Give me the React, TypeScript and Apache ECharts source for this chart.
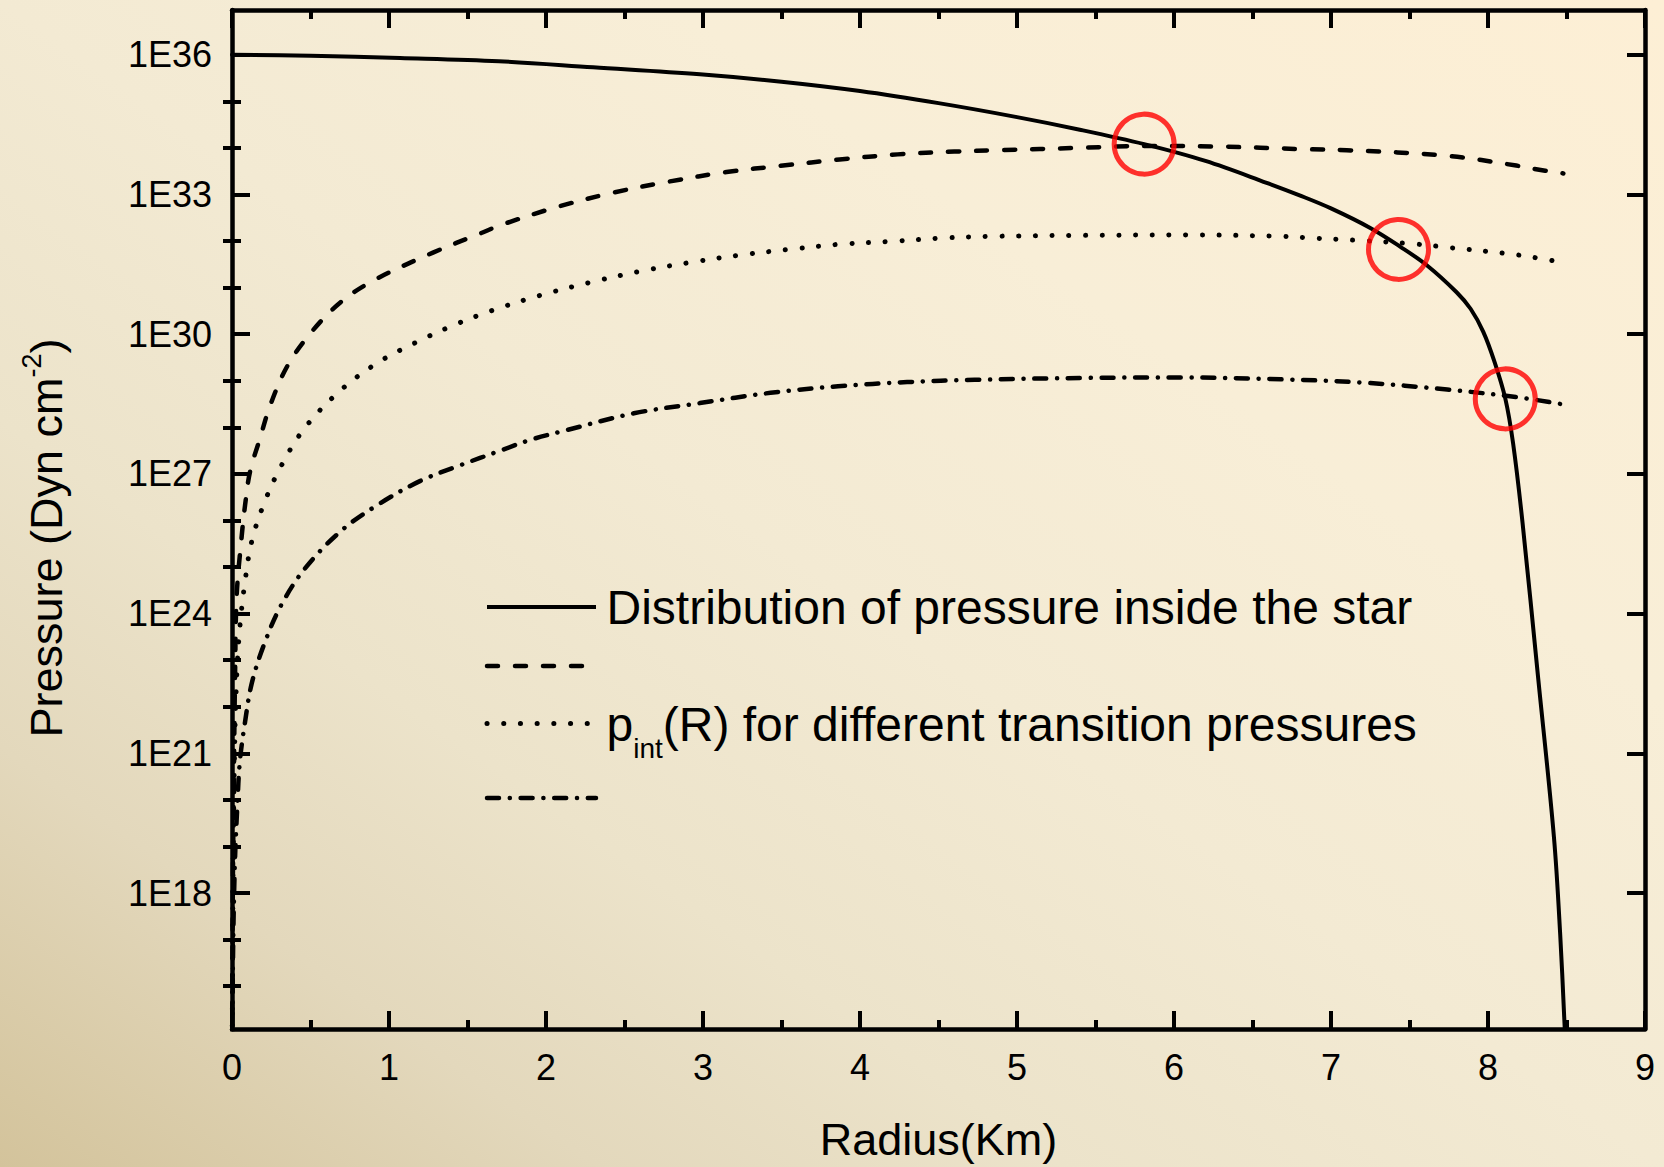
import { useEffect, useRef } from "react";
import * as echarts from "echarts";

const FONT = '"Liberation Sans", Arial, Helvetica, sans-serif';

// Axis ranges: x = radius in km, y = log10 of pressure (Dyn cm^-2)
const xMin = 0;
const xMax = 9;
const xInterval = 1;
const yMinExp = 15.08;
const yMaxExp = 36.96;
const yMajorExps = [18, 21, 24, 27, 30, 33, 36];
const yMinorExps = [16, 17, 19, 20, 22, 23, 25, 26, 28, 29, 31, 32, 34, 35];

// Distribution of pressure inside the star (solid)
const pressureInside: number[][] = [
  [0, 36.0], [0.5, 35.98], [1.07, 35.93], [1.7, 35.86], [2.3, 35.73], [2.98, 35.58],
  [3.5, 35.42], [4.0, 35.22], [4.5, 34.96], [5.0, 34.66], [5.4, 34.39], [5.81, 34.08],
  [6.2, 33.72], [6.59, 33.25], [6.8, 32.98], [7.0, 32.7], [7.25, 32.28], [7.44, 31.88],
  [7.61, 31.48], [7.8, 30.9], [7.89, 30.54], [7.97, 30.05], [8.04, 29.42], [8.11, 28.62],
  [8.16, 27.65], [8.22, 25.95], [8.32, 22.6], [8.42, 19.2], [8.46, 17.1], [8.49, 15.0],
];

// p_int(R), highest transition pressure (dashed)
const pIntHigh: number[][] = [
  [0, 13], [0.004, 17.5], [0.012, 20.5], [0.02, 22.8], [0.03, 24.4], [0.062, 25.67],
  [0.083, 26.32], [0.115, 27.05], [0.18, 27.78], [0.24, 28.44], [0.35, 29.3], [0.5, 30.02],
  [0.69, 30.68], [0.9, 31.15], [1.28, 31.75], [1.58, 32.16], [1.71, 32.34], [2.07, 32.73],
  [2.43, 33.04], [2.79, 33.28], [3.15, 33.48], [3.51, 33.62], [3.87, 33.75], [4.24, 33.86],
  [4.6, 33.92], [4.89, 33.95], [5.4, 34.0], [5.8, 34.04], [6.25, 34.03], [6.85, 33.97],
  [7.1, 33.95], [7.74, 33.83], [8.18, 33.62], [8.29, 33.55], [8.48, 33.45],
];

// p_int(R), middle transition pressure (dotted)
const pIntMid: number[][] = [
  [0, 13], [0.005, 17.5], [0.015, 20.8], [0.03, 22.65], [0.05, 23.71], [0.083, 24.69],
  [0.125, 25.54], [0.2, 26.33], [0.31, 27.15], [0.46, 27.97], [0.68, 28.76], [0.92, 29.37],
  [1.17, 29.82], [1.41, 30.19], [1.65, 30.5], [1.96, 30.83], [2.28, 31.11], [2.6, 31.35],
  [2.92, 31.54], [3.24, 31.7], [3.55, 31.82], [3.87, 31.93], [4.19, 31.99], [4.51, 32.06],
  [4.83, 32.1], [5.4, 32.12], [6.1, 32.13], [6.68, 32.1], [6.9, 32.06], [7.14, 32.02],
  [7.52, 31.94], [7.75, 31.86], [8.12, 31.73], [8.25, 31.67], [8.48, 31.54],
];

// p_int(R), lowest transition pressure (dash-dot)
const pIntLow: number[][] = [
  [0, 13], [0.006, 16.5], [0.018, 18.6], [0.034, 19.88], [0.05, 20.82], [0.083, 21.67],
  [0.125, 22.49], [0.2, 23.3], [0.31, 24.16], [0.465, 24.97], [0.7, 25.79], [0.94, 26.36],
  [1.2, 26.85], [1.45, 27.18], [1.71, 27.5], [1.9, 27.73], [2.11, 27.92], [2.56, 28.3],
  [2.98, 28.52], [3.43, 28.74], [3.86, 28.88], [4.3, 28.97], [4.73, 29.02], [5.44, 29.06],
  [6.04, 29.07], [6.68, 29.03], [7.2, 28.96], [7.74, 28.81], [8.2, 28.64], [8.48, 28.49],
];

// Marked crossings (red circles)
const crossings: number[][] = [
  [5.81, 34.08], [7.43, 31.82], [8.11, 28.61],
];

const legendSolidText = "Distribution of pressure inside the star";
const legendDotParts = ["p", "int", "(R) for different transition pressures"];
const xTitle = "Radius(Km)";
const yTitleParts = ["Pressure (Dyn cm", "-2", ")"];

const DASHED = [11, 17];
const DOTTED = [0.1, 16.6];
const DASHDOT = [12, 10.75, 0.1, 10.75];

export default function App() {
  const ref = useRef<HTMLDivElement>(null);

  useEffect(() => {
    const el = ref.current!;
    const chart = echarts.init(el, null, { renderer: "svg" });
    const ctx = document.createElement("canvas").getContext("2d")!;
    const measure = (t: string, size: number) => {
      ctx.font = `${size}px ${FONT}`;
      return ctx.measureText(t).width;
    };

    const axisLineStyle = { color: "#000", width: 4.5 };
    const tickLineStyle = { color: "#000", width: 4 };

    const txt = (x: number, y: number, text: string, size: number, align = "left") => ({
      type: "text",
      x,
      y,
      silent: true,
      style: {
        text,
        fontSize: size,
        fontFamily: FONT,
        fill: "#000",
        textAlign: align,
        align,
        textVerticalAlign: "middle",
        verticalAlign: "middle",
      },
    });

    const lg = (y: number, dash: any, width: number) => ({
      type: "line",
      silent: true,
      shape: { x1: 487, y1: y, x2: 596, y2: y },
      style: { stroke: "#000", lineWidth: width, lineDash: dash, lineCap: dash ? "round" : "butt" },
    });

    const legendX = 606.5;
    const wP = measure(legendDotParts[0], 48);
    const wInt = measure(legendDotParts[1], 28);

    const yMainSize = 45;
    const ySupSize = 27;
    const w1 = measure(yTitleParts[0], yMainSize);
    const w2 = measure(yTitleParts[1], ySupSize);
    const w3 = measure(yTitleParts[2], yMainSize);
    const yTitleTotal = w1 + w2 + w3;
    const yTitleCenter = 538;

    const graphic: any[] = [
      lg(607, null, 4),
      txt(legendX, 607, legendSolidText, 48),
      lg(666, DASHED, 4.5),
      lg(723.5, DOTTED, 5),
      txt(legendX, 724, legendDotParts[0], 48),
      txt(legendX + wP, 748.6, legendDotParts[1], 28),
      txt(legendX + wP + wInt, 724, legendDotParts[2], 48),
      lg(798, DASHDOT, 4.5),
      {
        type: "group",
        x: 46.1,
        y: yTitleCenter + yTitleTotal / 2,
        rotation: Math.PI / 2,
        silent: true,
        children: [
          txt(0, 0, yTitleParts[0], yMainSize),
          txt(w1, -14, yTitleParts[1], ySupSize),
          txt(w1 + w2, 0, yTitleParts[2], yMainSize),
        ],
      },
    ];

    const baseY = {
      type: "value",
      min: yMinExp,
      max: yMaxExp,
      splitLine: { show: false },
      minorSplitLine: { show: false },
    };

    const lineSeries = (name: string, data: number[][], width: number, type: any) => ({
      name,
      type: "line",
      data,
      showSymbol: false,
      symbol: "none",
      smooth: 0.35,
      lineStyle: { color: "#000", width, type, cap: "round", join: "round" },
      z: 3,
      silent: true,
    });

    const option: any = {
      animation: false,
      backgroundColor: "transparent",
      grid: { left: 232, top: 10, width: 1413, height: 1028, containLabel: false },
      xAxis: [
        {
          type: "value",
          min: xMin,
          max: xMax,
          interval: xInterval,
          position: "bottom",
          axisLine: { show: true, onZero: false, lineStyle: axisLineStyle },
          axisTick: { show: true, inside: true, length: 18, lineStyle: tickLineStyle },
          minorTick: { show: true, splitNumber: 2, length: 9, lineStyle: tickLineStyle },
          axisLabel: { fontSize: 36, fontFamily: FONT, color: "#000", margin: 20 },
          splitLine: { show: false },
          minorSplitLine: { show: false },
          name: xTitle,
          nameLocation: "middle",
          nameGap: 88,
          nameTextStyle: { fontSize: 45, fontFamily: FONT, color: "#000" },
        },
        {
          type: "value",
          min: xMin,
          max: xMax,
          interval: xInterval,
          position: "top",
          axisLine: { show: true, onZero: false, lineStyle: axisLineStyle },
          axisTick: { show: true, inside: true, length: 18, lineStyle: tickLineStyle },
          minorTick: { show: true, splitNumber: 2, length: 9, lineStyle: tickLineStyle },
          axisLabel: { show: false },
          splitLine: { show: false },
          minorSplitLine: { show: false },
        },
      ],
      yAxis: [
        {
          ...baseY,
          position: "left",
          axisLine: { show: true, onZero: false, lineStyle: axisLineStyle },
          axisTick: { show: true, inside: true, length: 18, customValues: yMajorExps, lineStyle: tickLineStyle },
          axisLabel: {
            show: true,
            customValues: yMajorExps,
            formatter: (v: number) => "1E" + Math.round(v),
            fontSize: 36,
            fontFamily: FONT,
            color: "#000",
            margin: 20,
          },
        },
        {
          ...baseY,
          position: "left",
          axisLine: { show: false },
          axisTick: { show: true, inside: true, length: 9, customValues: yMinorExps, lineStyle: tickLineStyle },
          axisLabel: { show: false },
        },
        {
          ...baseY,
          position: "right",
          axisLine: { show: true, onZero: false, lineStyle: axisLineStyle },
          axisTick: { show: true, inside: true, length: 18, customValues: yMajorExps, lineStyle: tickLineStyle },
          axisLabel: { show: false },
        },
        {
          ...baseY,
          position: "right",
          axisLine: { show: false },
          axisTick: { show: true, inside: true, length: 9, customValues: yMinorExps, lineStyle: tickLineStyle },
          axisLabel: { show: false },
        },
      ],
      series: [
        lineSeries("Distribution of pressure inside the star", pressureInside, 4, "solid"),
        lineSeries("p_int high", pIntHigh, 4.5, DASHED),
        lineSeries("p_int mid", pIntMid, 5, DOTTED),
        lineSeries("p_int low", pIntLow, 4.5, DASHDOT),
        {
          name: "crossings",
          type: "scatter",
          data: crossings,
          symbol: "circle",
          symbolSize: 60,
          itemStyle: { color: "rgba(0,0,0,0)", borderColor: "#ff0000", borderWidth: 5 },
          z: 5,
          silent: true,
        },
      ],
      graphic,
    };

    chart.setOption(option);
    return () => chart.dispose();
  }, []);

  return (
    <div
      ref={ref}
      style={{
        position: "absolute",
        left: 0,
        top: 0,
        width: 1664,
        height: 1167,
        background:
          "linear-gradient(to top right, #d3c39b 0%, #e3d8bc 18%, #ece3ca 32%, #f3ead3 50%, #f8eed7 70%, #fdefd5 100%)",
      }}
    />
  );
}
